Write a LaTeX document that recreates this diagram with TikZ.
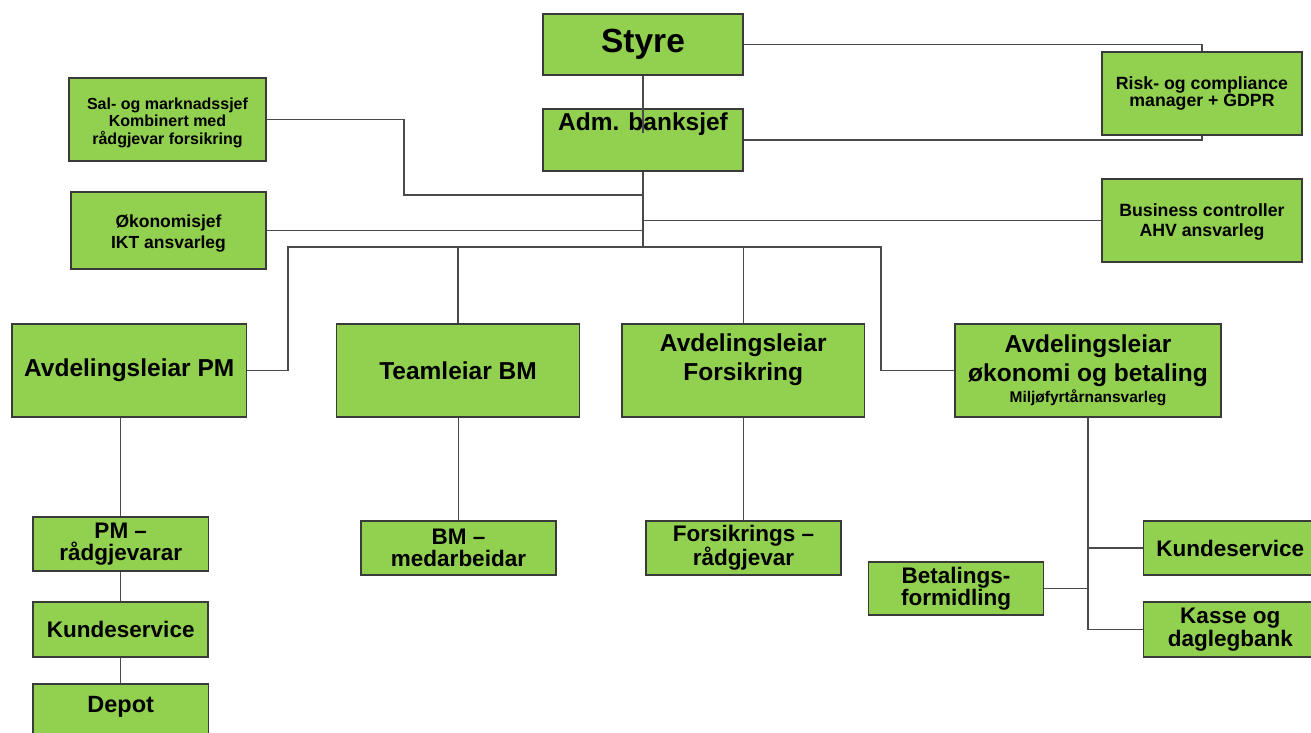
\documentclass[tikz,border=0pt]{standalone}
\usepackage{fontspec}
\setmainfont{Liberation Sans}
\definecolor{boxgreen}{HTML}{92D050}
\definecolor{boxline}{HTML}{3A3A3A}
\definecolor{conline}{HTML}{4A4A4A}
\newcommand\fntA[2]{\fontsize{#1}{#2}\selectfont\bfseries}
\tikzset{
  orgbox/.style={draw=boxline, line width=1.6pt, fill=boxgreen, inner sep=0pt, align=center, text=black},
  lbl/.style={inner sep=0pt, align=center, text=black},
  con/.style={draw=conline, line width=1.2pt}
}
\begin{document}
\begin{tikzpicture}[x=1pt,y=-1pt]
\useasboundingbox[fill=white] (0,0) rectangle (1311,733);
% boxes
\node[orgbox, minimum width=200pt, minimum height=61pt, font=\fntA{33.5}{36}] (styre) at (643,44.5) {Styre};
\node[orgbox, minimum width=200pt, minimum height=62pt] (adm) at (643,140) {};
\node[lbl, anchor=base, font=\fntA{24.5}{29}] (admT) at (643,131) {Adm. banksjef};
\node[orgbox, minimum width=197pt, minimum height=83pt, font=\fntA{16}{17.5}] (sal) at (167.5,119.5) {\rule{0pt}{17.5pt}Sal- og marknadssjef\\Kombinert med\\rådgjevar forsikring};
\node[orgbox, minimum width=195pt, minimum height=77pt, font=\fntA{17.5}{21}] (oek) at (168.5,230.5) {\rule{0pt}{19.5pt}Økonomisjef\\IKT ansvarleg};
\node[orgbox, minimum width=200pt, minimum height=83pt, font=\fntA{17.7}{17}] (risk) at (1202,93.5) {Risk- og compliance\\manager + GDPR};
\node[orgbox, minimum width=200pt, minimum height=83pt, font=\fntA{17.7}{20}] (biz) at (1202,220.5) {\rule{0pt}{16.5pt}Business controller\\AHV ansvarleg};
\node[orgbox, minimum width=234.5pt, minimum height=93pt, font=\fntA{24.5}{29}] (pm) at (129.25,370.5) {Avdelingsleiar PM};
\node[orgbox, minimum width=243pt, minimum height=93pt, font=\fntA{24.5}{29}] (team) at (458,370.5) {Teamleiar BM};
\node[orgbox, minimum width=242.5pt, minimum height=93pt] (fors) at (743.25,370.5) {};
\node[lbl, font=\fntA{24.5}{29}] (forsT) at (743.25,360) {Avdelingsleiar\\Forsikring};
\node[orgbox, minimum width=266pt, minimum height=93pt, font=\fntA{24.5}{29}] (avdok) at (1088,370.5) {Avdelingsleiar\\økonomi og betaling\\[-8pt]{\fntA{15.5}{18}Miljøfyrtårnansvarleg}};
\node[orgbox, minimum width=175.5pt, minimum height=54pt, font=\fntA{22.5}{22}] (pmr) at (120.75,544) {PM –\\rådgjevarar};
\node[orgbox, minimum width=175pt, minimum height=55pt, font=\fntA{22.5}{22}] (kunde1) at (120.75,629.5) {Kundeservice};
\node[orgbox, minimum width=175.5pt, minimum height=66pt] (depot) at (120.75,717) {};
\node[lbl, anchor=base, font=\fntA{23.5}{24}] (depotT) at (120.75,712) {Depot};
\node[orgbox, minimum width=195pt, minimum height=54pt, font=\fntA{22.5}{22}] (bm) at (458.5,548) {BM –\\medarbeidar};
\node[orgbox, minimum width=195pt, minimum height=54pt, font=\fntA{22.5}{22}] (forsR) at (743.5,548) {Forsikrings –\\rådgjevar};
\node[orgbox, minimum width=175pt, minimum height=53pt, font=\fntA{22.5}{21}] (betal) at (956,588.5) {Betalings-\\formidling};
\node[orgbox, minimum width=173.5pt, minimum height=54pt, font=\fntA{22.5}{22}] (kunde2) at (1230.25,548) {Kundeservice};
\node[orgbox, minimum width=173.5pt, minimum height=55pt, font=\fntA{22.5}{23}] (kasse) at (1230.25,629.5) {Kasse og\\daglegbank};
% helper coordinates
\coordinate (admIn) at (643,133);
\coordinate (jn) at (643,247);
\coordinate (salbend) at (404,195);
\coordinate (busW) at (288,247);
\coordinate (busE) at (881,247);
% connectors
\draw[con] (styre.south) -- (admIn);
\draw[con] (styre.east) -| (risk.north);
\draw[con] (adm.east) -| (risk.south);
\draw[con] (adm.south) -- (jn);
\draw[con] (sal.east) -| (salbend) -- (salbend -| jn);
\draw[con] (jn |- biz.west) -- (biz.west);
\draw[con] (oek.east) -- (oek.east -| jn);
\draw[con] (pm.east) -| (busW) -- (busE) |- (avdok.west);
\draw[con] (team.north) -- (team.north |- busW);
\draw[con] (fors.north) -- (fors.north |- busW);
\draw[con] (pmr.north) -- (pmr.north |- pm.south);
\draw[con] (pmr.south) -- (kunde1.north);
\draw[con] (kunde1.south) -- (depot.north);
\draw[con] (bm.north) -- (bm.north |- team.south);
\draw[con] (forsR.north) -- (forsR.north |- fors.south);
\draw[con] (avdok.south) -- (avdok.south |- kasse.west) -- (kasse.west);
\draw[con] (avdok.south |- kunde2.west) -- (kunde2.west);
\draw[con] (betal.east) -- (betal.east -| avdok.south);
\end{tikzpicture}
\end{document}
